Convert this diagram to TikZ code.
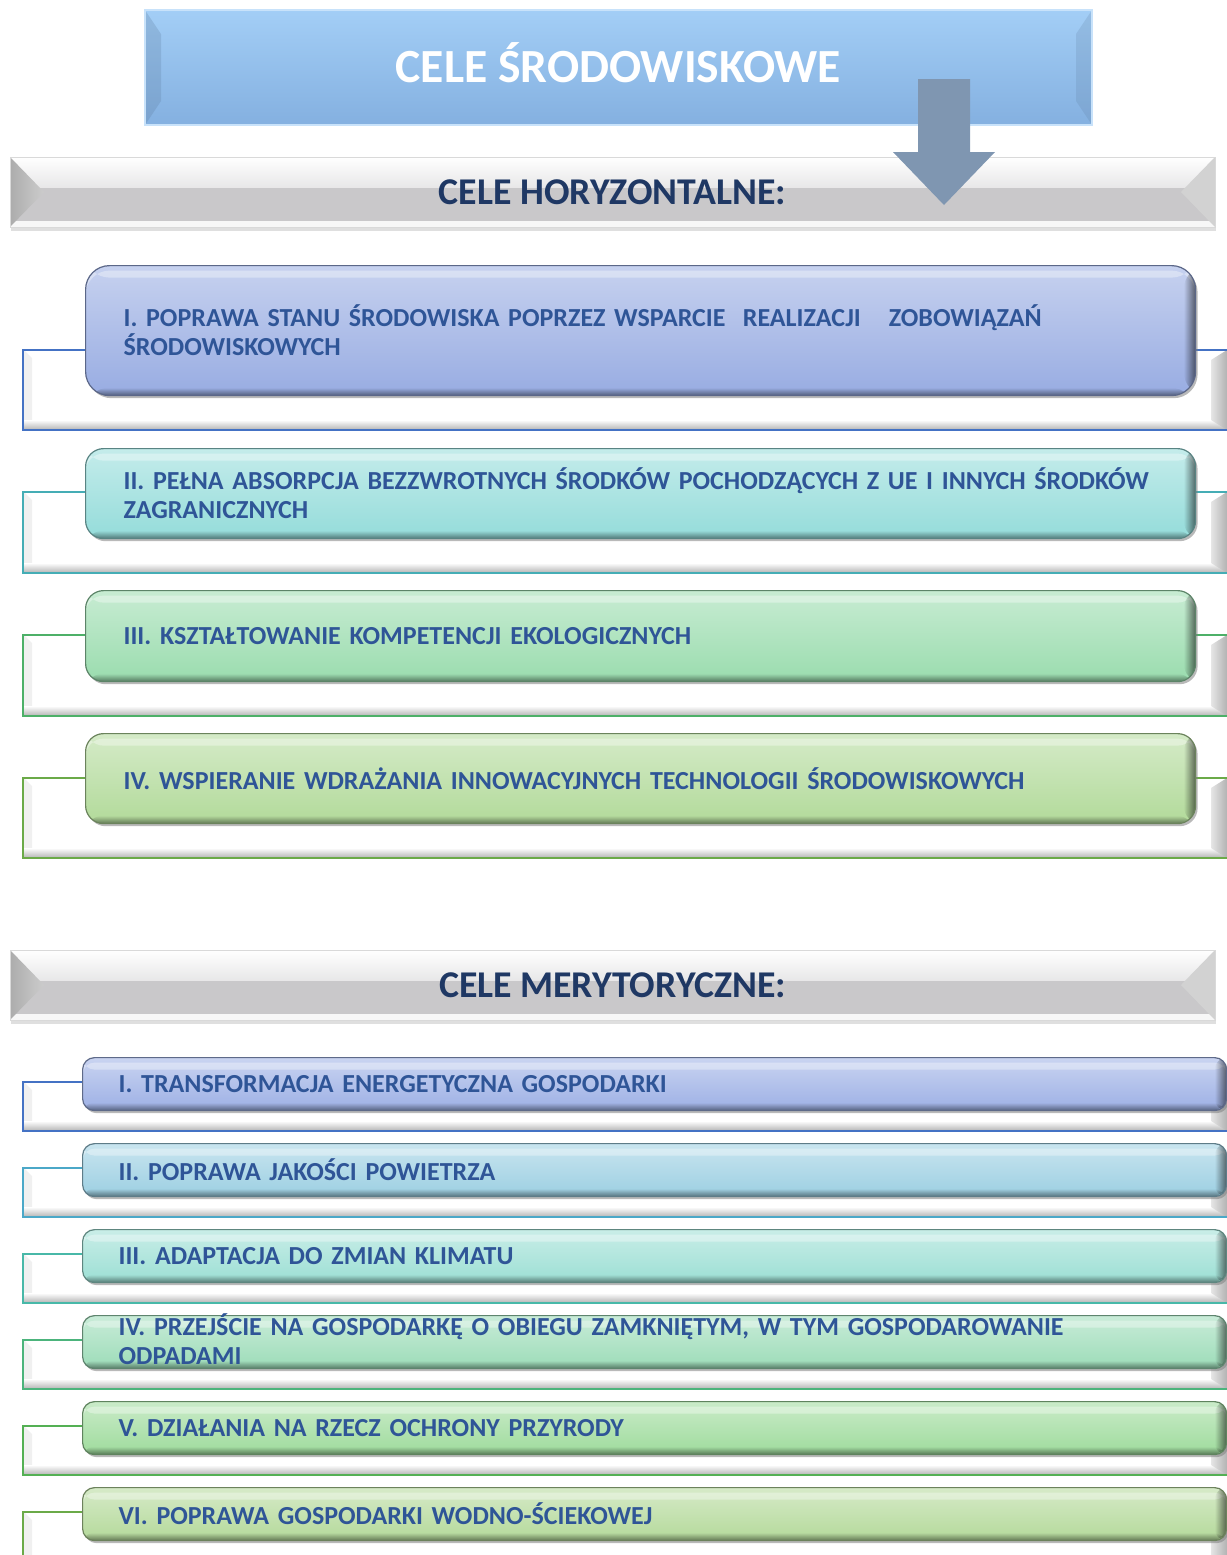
\documentclass[tikz,border=0pt]{standalone}
\usepackage{fontspec}
\setmainfont{Carlito}
\usepackage{xcolor}
\usetikzlibrary{positioning,shadows,fadings}

\definecolor{txtblue}{HTML}{2F5597}
\definecolor{navy}{HTML}{1F3864}
\definecolor{skyA}{HTML}{A3CEF6}
\definecolor{skyB}{HTML}{84B0E0}
\definecolor{arrowgray}{HTML}{7F96B1}
\definecolor{bgray}{HTML}{C9C8CA}
% fills of the goal boxes
\definecolor{cI}{HTML}{98ACE2}
\definecolor{cII}{HTML}{94DCDA}
\definecolor{cIII}{HTML}{9ADCAE}
\definecolor{cIV}{HTML}{B2DA9A}
\definecolor{mI}{HTML}{9DB0E5}
\definecolor{mII}{HTML}{9CCFE2}
\definecolor{mIII}{HTML}{9CDFD4}
\definecolor{mIV}{HTML}{9CDCB8}
\definecolor{mV}{HTML}{9EDB9C}
\definecolor{mVI}{HTML}{B4D99A}
% outlines of the plates behind them
\definecolor{lI}{HTML}{4472C4}
\definecolor{lII}{HTML}{45ADB5}
\definecolor{lIII}{HTML}{4DB068}
\definecolor{lIV}{HTML}{6BAA48}
\definecolor{lmII}{HTML}{4BA8C8}
\definecolor{lmIII}{HTML}{48B8A8}
\definecolor{lmIV}{HTML}{4CB47C}
\definecolor{lmV}{HTML}{54B054}

\begin{document}
\begin{tikzpicture}[x=0.5pt, y=-0.5pt,
    titlebox/.style={minimum width=473.5pt, minimum height=57.5pt,
        top color=skyA, bottom color=skyB, draw=skyA!60!white, line width=0.8pt,
        text=white, font=\bfseries\fontsize{23.8}{28}\selectfont,
        text height=15.3pt, text depth=0pt,
        path picture={
            \fill[skyB!70!black, opacity=0.25] (path picture bounding box.north west)
                -- ([xshift=8pt,yshift=-12pt]path picture bounding box.north west)
                -- ([xshift=8pt,yshift=12pt]path picture bounding box.south west)
                -- (path picture bounding box.south west) -- cycle;
            \fill[skyB!70!black, opacity=0.2] (path picture bounding box.north east)
                -- ([xshift=-8pt,yshift=-12pt]path picture bounding box.north east)
                -- ([xshift=-8pt,yshift=12pt]path picture bounding box.south east)
                -- (path picture bounding box.south east) -- cycle;}},
    banner/.style={minimum width=602.5pt, minimum height=35pt, fill=bgray,
        draw=gray!30, line width=0.5pt,
        text=navy, font=\bfseries\fontsize{18.9}{22}\selectfont,
        text height=12.2pt, text depth=0pt,
        drop shadow={shadow xshift=0.5pt, shadow yshift=-2pt, opacity=0.25},
        path picture={
            \shade[top color=white, bottom color=bgray] (path picture bounding box.north west)
                rectangle ([yshift=-15pt]path picture bounding box.north east);
            \fill[white!85!bgray] ([yshift=3pt]path picture bounding box.south west)
                rectangle (path picture bounding box.south east);
            \shade[left color=gray!65, right color=gray!40] (path picture bounding box.north west)
                -- ([xshift=17pt]path picture bounding box.west)
                -- (path picture bounding box.south west) -- cycle;
            \fill[gray!35] (path picture bounding box.north east)
                -- ([xshift=-17pt]path picture bounding box.east)
                -- (path picture bounding box.south east) -- cycle;}},
    goal/.style={anchor=north west, align=left, text=txtblue,
        font=\bfseries\fontsize{13}{14.5}\selectfont,
        top color=#1!55!white, bottom color=#1, draw=#1!60!black, line width=0.6pt,
        drop shadow={shadow xshift=1pt, shadow yshift=-1.3pt, opacity=0.55},
        path picture={
            \fill[white, opacity=0.35] ([yshift=-2.5pt]path picture bounding box.north west)
                rectangle ([yshift=-6pt]path picture bounding box.north east);
            \fill[black, opacity=0.55, path fading=west]
                ([xshift=-6pt]path picture bounding box.north east)
                rectangle (path picture bounding box.south east);
            \fill[black, opacity=0.45, path fading=north]
                ([yshift=4pt]path picture bounding box.south west)
                rectangle (path picture bounding box.south east);}},
    hgoal/.style={goal=#1, minimum width=555pt, inner xsep=19pt, text width=517pt,
        rounded corners=9pt},
    mgoal/.style={goal=#1, minimum width=572pt, minimum height=26.5pt, inner xsep=18pt,
        text width=536pt, rounded corners=6pt},
]
\useasboundingbox (0,0) rectangle (1227,1555);
\clip (0,0) rectangle (1227,1555);

% Plates behind the goals
\foreach \ytop/\ybot/\col in {350/430/lI, 492/573/lII, 635/716/lIII, 778/858/lIV,
        1082/1131/lI, 1168/1217/lmII, 1254/1303/lmIII, 1340/1389/lmIV,
        1426/1475/lmV, 1512/1575/lIV} {
    \fill[white] (23,\ytop) rectangle (1240,\ybot);
    \fill[gray!12] (24,\ytop) -- (32,\ytop+8) -- (32,\ybot-10) -- (24,\ybot) -- cycle;
    \shade[top color=white, bottom color=gray!60] (24,\ybot-10) rectangle (1227,\ybot);
    \shade[left color=gray!20, right color=gray!60] (1211,\ytop+10) -- (1227,\ytop)
        -- (1227,\ybot) -- (1211,\ybot-10) -- cycle;
    \draw[\col, line width=1pt] (1240,\ytop) -- (23,\ytop) -- (23,\ybot) -- (1240,\ybot);
}

% Title and the first banner
\node[titlebox] (title) at (618.5,67.5) {CELE ŚRODOWISKOWE};
\node[banner] (horiz) at (612.5,192) {CELE HORYZONTALNE:};

% Block arrow from the title down to the banner
\fill[arrowgray] (918,79) -- (970,79) -- (970,152) -- (995,152) -- (944,205)
    -- (893,152) -- (918,152) -- cycle;

% Horizontal goals
\node[hgoal=cI, minimum height=65pt, rounded corners=12pt] (h1) at (85,265)
    {I. POPRAWA STANU ŚRODOWISKA POPRZEZ WSPARCIE\ \ REALIZACJI\hspace{14pt}ZOBOWIĄZAŃ\\ŚRODOWISKOWYCH};
\node[hgoal=cII, minimum height=45pt] (h2) at (85,448)
    {II. PEŁNA ABSORPCJA BEZZWROTNYCH ŚRODKÓW POCHODZĄCYCH Z UE I INNYCH ŚRODKÓW\\ZAGRANICZNYCH};
\node[hgoal=cIII, minimum height=45.5pt] (h3) at (85,590)
    {III. KSZTAŁTOWANIE KOMPETENCJI EKOLOGICZNYCH};
\node[hgoal=cIV, minimum height=45pt] (h4) at (85,733)
    {IV. WSPIERANIE WDRAŻANIA INNOWACYJNYCH TECHNOLOGII ŚRODOWISKOWYCH};

% Second banner
\node[banner] (merit) at (612.5,985) {CELE MERYTORYCZNE:};

% Substantive goals
\node[mgoal=mI] (m1) at (82,1057) {I. TRANSFORMACJA ENERGETYCZNA GOSPODARKI};
\node[mgoal=mII] (m2) at (82,1143) {II. POPRAWA JAKOŚCI POWIETRZA};
\node[mgoal=mIII] (m3) at (82,1229) {III. ADAPTACJA DO ZMIAN KLIMATU};
% two lines that spill over the box, as in the original
\node[mgoal=mIV, text height=0pt, text depth=0pt] (m4) at (82,1315)
    {\smash{\raisebox{3.1pt}{\parbox[t]{536pt}{\raggedright
    IV. PRZEJŚCIE NA GOSPODARKĘ O OBIEGU ZAMKNIĘTYM, W TYM GOSPODAROWANIE\\ODPADAMI}}}};
\node[mgoal=mV] (m5) at (82,1401) {V. DZIAŁANIA NA RZECZ OCHRONY PRZYRODY};
\node[mgoal=mVI] (m6) at (82,1487) {VI. POPRAWA GOSPODARKI WODNO-ŚCIEKOWEJ};
\end{tikzpicture}
\end{document}
